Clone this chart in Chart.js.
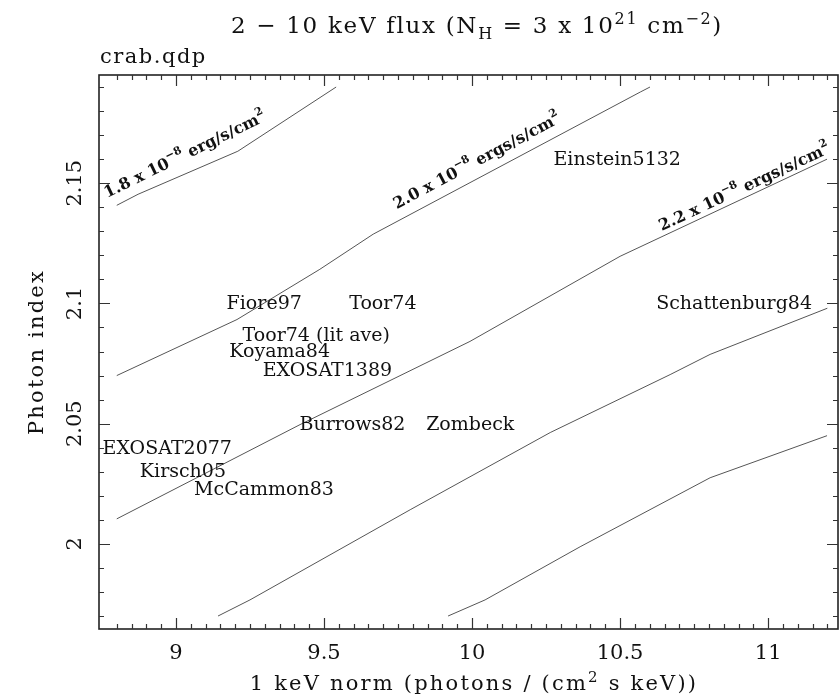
<!DOCTYPE html>
<html>
<head>
<meta charset="utf-8">
<script src="https://cdn.jsdelivr.net/npm/chart.js@4.4.1/dist/chart.umd.min.js"></script>
<style>
  html, body { margin: 0; padding: 0; background: #fff; }
</style>
</head>
<body>
<canvas id="chart" width="839" height="696"></canvas>
<script>
// contour lines (1 keV norm, photon index)
const contour1X = [8.80, 8.872, 9.209, 9.541];
const contour1Y = [2.1408, 2.1454, 2.1633, 2.19];
const contour2X = [8.80, 9.206, 9.486, 9.666, 10.568, 10.601];
const contour2Y = [2.07, 2.0933, 2.1142, 2.1288, 2.1879, 2.19];
const contour3X = [8.80, 9.419, 9.993, 10.50, 11.199];
const contour3Y = [2.0104, 2.0496, 2.0842, 2.1196, 2.16];
const contour4X = [9.142, 9.25, 9.791, 10.264, 10.669, 10.804, 11.2];
const contour4Y = [1.97, 1.9767, 2.0142, 2.0463, 2.0704, 2.0788, 2.098];
const contour5X = [9.919, 10.044, 10.365, 10.804, 11.199];
const contour5Y = [1.97, 1.9767, 1.9988, 2.0275, 2.045];

// contour labels
const contourLabelFlux = ["1.8", "2.0", "2.2"];
const contourLabelUnit = [" erg/s/cm", " ergs/s/cm", " ergs/s/cm"];
const contourLabelX = [8.767, 9.7456, 10.641];
const contourLabelY = [2.1438, 2.1392, 2.1301];
const contourLabelAngle = [-26, -28, -25];

// measurement names
const sourceNames = ["Einstein5132", "Fiore97", "Toor74", "Schattenburg84", "Toor74 (lit ave)",
  "Koyama84", "EXOSAT1389", "Burrows82", "Zombeck", "EXOSAT2077", "Kirsch05", "McCammon83"];
const sourceX = [10.275, 9.171, 9.585, 10.622, 9.225, 9.18, 9.293, 9.417, 9.845, 8.752, 8.878, 9.061];
const sourceY = [2.1596, 2.0996, 2.0996, 2.0996, 2.0864, 2.0797, 2.0718, 2.0496, 2.0496, 2.0396, 2.0297, 2.0225];

// axes
const xTickValues = [9, 9.5, 10, 10.5, 11];
const yTickValues = [2, 2.05, 2.1, 2.15];

const FONT = "'DejaVu Serif', 'Liberation Serif', serif";
const INK = "#111";

function toPoints(xs, ys) {
  return xs.map((x, i) => ({ x: x, y: ys[i] }));
}

// draw a list of [text, size, shift] pieces along a baseline
function drawPieces(ctx, pieces, x, y, weight) {
  let cx = x;
  pieces.forEach(p => {
    ctx.font = weight + " " + p[1] + "px " + FONT;
    ctx.fillText(p[0], cx, y + p[2]);
    cx += ctx.measureText(p[0]).width;
  });
  return cx - x;
}
function piecesWidth(ctx, pieces, weight) {
  let w = 0;
  pieces.forEach(p => {
    ctx.font = weight + " " + p[1] + "px " + FONT;
    w += ctx.measureText(p[0]).width;
  });
  return w;
}

const decor = {
  id: "decor",
  afterDraw(chart) {
    const ctx = chart.ctx;
    const a = chart.chartArea;
    const xs = chart.scales.x;
    const ys = chart.scales.y;
    ctx.save();

    // frame
    ctx.strokeStyle = "#222";
    ctx.lineWidth = 1.6;
    ctx.strokeRect(a.left, a.top, a.right - a.left, a.bottom - a.top);

    // inward ticks on all four sides
    ctx.lineWidth = 1.2;
    ctx.strokeStyle = "#333";
    ctx.beginPath();
    for (let i = 0; i <= 48; i++) {
      const v = 8.8 + i * 0.05;
      const major = Math.abs(v * 2 - Math.round(v * 2)) < 1e-6;
      const len = major ? 11 : 5;
      const px = Math.round(xs.getPixelForValue(v)) + 0.5;
      ctx.moveTo(px, a.bottom); ctx.lineTo(px, a.bottom - len);
      ctx.moveTo(px, a.top); ctx.lineTo(px, a.top + len);
    }
    for (let i = 0; i <= 22; i++) {
      const v = 1.97 + i * 0.01;
      const major = Math.abs(v * 20 - Math.round(v * 20)) < 1e-6;
      const len = major ? 11 : 5;
      const py = Math.round(ys.getPixelForValue(v)) + 0.5;
      ctx.moveTo(a.left, py); ctx.lineTo(a.left + len, py);
      ctx.moveTo(a.right, py); ctx.lineTo(a.right - len, py);
    }
    ctx.stroke();

    ctx.fillStyle = INK;
    ctx.textBaseline = "alphabetic";
    ctx.textAlign = "left";

    // title with sub/superscripts
    ctx.letterSpacing = "1.7px";
    const title = [["2 \u2212 10 keV flux (N", 23, 0], ["H", 16, 6], [" = 3 x 10", 23, 0],
      ["21", 16, -9], [" cm", 23, 0], ["\u22122", 16, -9], [")", 23, 0]];
    const tw = piecesWidth(ctx, title, "normal");
    drawPieces(ctx, title, 477 - tw / 2, 33, "normal");

    ctx.letterSpacing = "1.5px";
    ctx.font = "21px " + FONT;
    ctx.fillText("crab.qdp", a.left + 1, 63);

    // axis titles
    ctx.letterSpacing = "2.2px";
    const xTitle = [["1 keV norm (photons / (cm", 21, 0], ["2", 15, -8], [" s keV))", 21, 0]];
    const xw = piecesWidth(ctx, xTitle, "normal");
    drawPieces(ctx, xTitle, 474 - xw / 2, 690, "normal");

    ctx.save();
    ctx.translate(43, (a.top + a.bottom) / 2);
    ctx.rotate(-Math.PI / 2);
    ctx.font = "21px " + FONT;
    ctx.textAlign = "center";
    ctx.fillText("Photon index", 0, 0);
    ctx.restore();
    ctx.letterSpacing = "0px";

    // measurement names
    ctx.font = "19px " + FONT;
    ctx.textBaseline = "middle";
    sourceNames.forEach((name, i) => {
      ctx.fillText(name, xs.getPixelForValue(sourceX[i]), ys.getPixelForValue(sourceY[i]));
    });

    // contour labels
    ctx.textBaseline = "alphabetic";
    contourLabelFlux.forEach((flux, i) => {
      ctx.save();
      ctx.translate(xs.getPixelForValue(contourLabelX[i]), ys.getPixelForValue(contourLabelY[i]));
      ctx.rotate(contourLabelAngle[i] * Math.PI / 180);
      drawPieces(ctx, [[flux + " x 10", 16, 0], ["\u22128", 11, -8], [contourLabelUnit[i], 16, 0], ["2", 11, -8]], 0, 0, "bold");
      ctx.restore();
    });

    ctx.restore();
  }
};

const lineStyle = { showLine: true, pointRadius: 0, borderColor: "#555", borderWidth: 1, fill: false, tension: 0 };

new Chart(document.getElementById("chart"), {
  type: "scatter",
  data: {
    datasets: [
      Object.assign({ data: toPoints(contour1X, contour1Y) }, lineStyle),
      Object.assign({ data: toPoints(contour2X, contour2Y) }, lineStyle),
      Object.assign({ data: toPoints(contour3X, contour3Y) }, lineStyle),
      Object.assign({ data: toPoints(contour4X, contour4Y) }, lineStyle),
      Object.assign({ data: toPoints(contour5X, contour5Y) }, lineStyle)
    ]
  },
  options: {
    responsive: false,
    animation: false,
    layout: { padding: { top: 75, right: 1, left: 0, bottom: 0 } },
    plugins: { legend: { display: false }, tooltip: { enabled: false } },
    scales: {
      x: {
        type: "linear",
        min: 8.74,
        max: 11.236,
        border: { display: false },
        grid: { display: false, drawTicks: false },
        afterBuildTicks: s => { s.ticks = xTickValues.map(v => ({ value: v })); },
        afterFit: s => { s.height = 67; },
        ticks: {
          font: { family: FONT, size: 21 }, color: INK, padding: 12,
          maxRotation: 0, autoSkip: false,
          callback: v => String(+v.toFixed(2))
        }
      },
      y: {
        type: "linear",
        min: 1.9646,
        max: 2.195,
        border: { display: false },
        grid: { display: false, drawTicks: false },
        afterBuildTicks: s => { s.ticks = yTickValues.map(v => ({ value: v })); },
        afterFit: s => { s.width = 99; },
        ticks: {
          font: { family: FONT, size: 21 }, color: INK, padding: 0,
          minRotation: 90, maxRotation: 90, crossAlign: "center", autoSkip: false,
          callback: v => String(+v.toFixed(2))
        }
      }
    }
  },
  plugins: [decor]
});
</script>
</body>
</html>
